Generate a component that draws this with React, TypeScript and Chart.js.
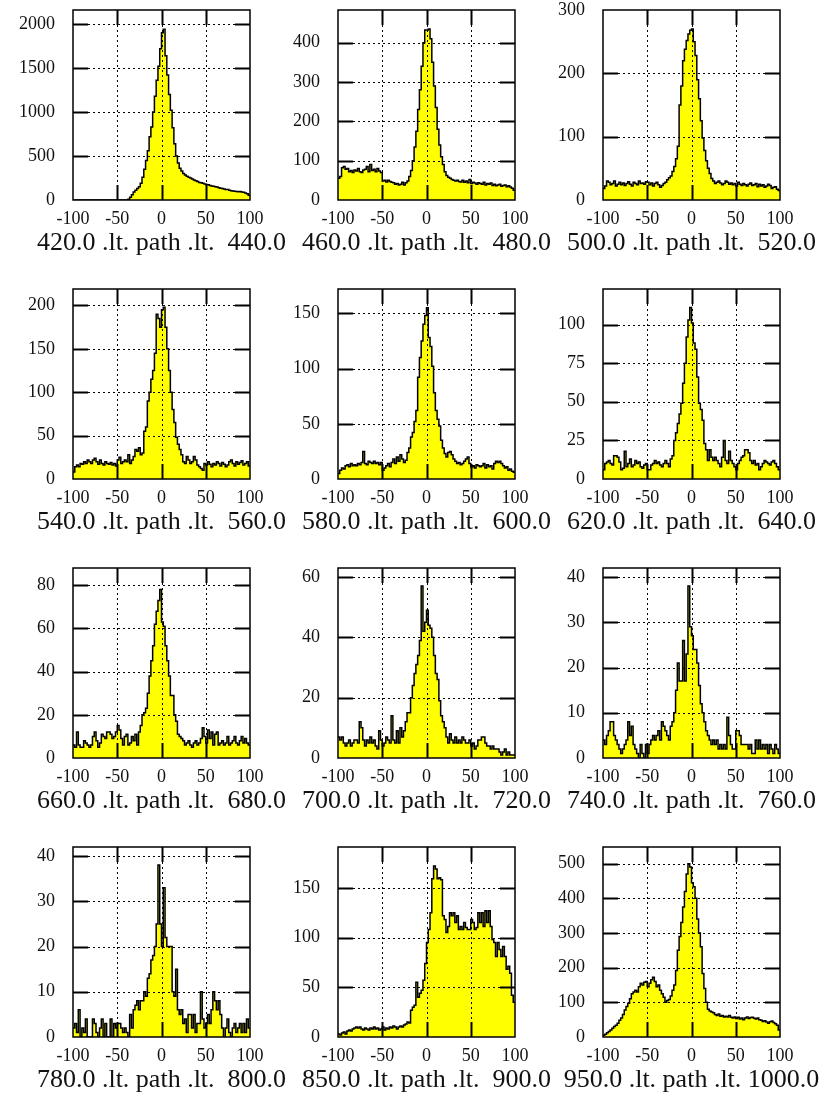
import React, { useEffect, useRef } from "react";
import { Chart, registerables } from "chart.js";

Chart.register(...registerables);

// ---------- data ----------
const X_MIN = -100;
const X_MAX = 100;
const X_STEP = 50;

const titles = [
  "420.0 .lt. path .lt.  440.0",
  "460.0 .lt. path .lt.  480.0",
  "500.0 .lt. path .lt.  520.0",
  "540.0 .lt. path .lt.  560.0",
  "580.0 .lt. path .lt.  600.0",
  "620.0 .lt. path .lt.  640.0",
  "660.0 .lt. path .lt.  680.0",
  "700.0 .lt. path .lt.  720.0",
  "740.0 .lt. path .lt.  760.0",
  "780.0 .lt. path .lt.  800.0",
  "850.0 .lt. path .lt.  900.0",
  "950.0 .lt. path .lt. 1000.0",
];

const yMax = [2160, 483, 300, 219, 172, 123, 88, 63, 42, 42, 191, 548];
const yStep = [500, 100, 100, 50, 50, 25, 20, 20, 10, 10, 50, 100];

const h420 = [
  0, 0, 0, 0, 0, 0, 0, 0, 0, 0,
  0, 0, 0, 0, 0, 0, 0, 0, 0, 0,
  0, 0, 0, 0, 0, 0, 0, 0, 0, 0,
  0, 8, 30, 60, 90, 110, 130, 150, 190, 260,
  350, 450, 560, 720, 830, 1000, 1180, 1360, 1520, 1720,
  1900, 1940, 1640, 1420, 1200, 1020, 820, 640, 500, 420,
  360, 330, 300, 285, 270, 260, 250, 240, 228, 220,
  210, 200, 195, 190, 182, 175, 172, 165, 160, 155,
  150, 148, 140, 135, 132, 125, 120, 118, 110, 105,
  103, 100, 98, 95, 98, 92, 88, 80, 72, 55,
];
const h460 = [
  55, 60, 82, 85, 78, 80, 72, 75, 70, 76,
  74, 80, 72, 70, 76, 78, 85, 72, 90, 75,
  78, 72, 80, 74, 70, 48, 50, 46, 50, 47,
  45, 44, 40, 42, 38, 40, 45, 38, 44, 48,
  60, 75, 100, 135, 175, 230, 280, 340, 400, 432,
  432, 435, 410, 350, 290, 235, 180, 140, 110, 90,
  72, 62, 58, 55, 52, 50, 48, 50, 47, 46,
  50, 45, 48, 44, 52, 42, 45, 43, 40, 44,
  42, 40, 45, 38, 42, 40, 43, 37, 40, 36,
  38, 40, 35, 37, 38, 34, 36, 33, 30, 25,
];
const h500 = [
  18, 22, 30, 28, 24, 26, 30, 22, 25, 28,
  24, 27, 23, 26, 29, 25, 22, 28, 26, 24,
  30, 26, 27, 25, 29, 28, 24, 27, 22, 26,
  28, 24, 20, 23, 26, 28, 32, 35, 38, 45,
  53, 65, 85, 150, 180, 220, 238, 252, 262, 268,
  270, 250, 228, 190, 160, 125, 98, 78, 62, 50,
  42, 34, 30, 26, 28, 30, 27, 24, 26, 30,
  28, 25, 27, 24, 26, 22, 28, 25, 23, 26,
  24, 22, 25, 27, 23, 24, 26, 21, 25, 22,
  24, 20, 22, 25, 23, 18, 20, 21, 17, 15,
];
const h540 = [
  8, 14, 16, 14, 18, 17, 20, 18, 22, 20,
  18, 22, 24, 20, 17, 22, 18, 16, 20, 18,
  17, 19, 16, 18, 15, 22, 25, 18, 20, 22,
  20, 28, 18, 22, 26, 34, 32, 36, 28, 30,
  55, 60, 90, 100, 115, 125, 145, 190, 185, 175,
  195, 198, 175, 150, 125, 100, 80, 65, 48, 40,
  34, 28, 20, 18, 26, 22, 18, 20, 26, 22,
  16, 14, 12, 10, 18, 16, 20, 17, 14, 18,
  16, 20, 18, 15, 19, 17, 14, 16, 20, 22,
  18, 15, 20, 17, 19, 21, 16, 18, 20, 15,
];
const h580 = [
  5, 8, 10, 9, 12, 13, 11, 14, 12, 13,
  12, 14, 13, 15, 25, 14, 13, 16, 15, 14,
  16, 14, 15, 13, 15, 8, 10, 12, 14, 11,
  15, 18, 14, 20, 16, 22, 18, 15, 17, 24,
  28, 38, 42, 52, 62, 92, 110, 125, 140, 148,
  155, 128, 120, 102, 78, 62, 54, 48, 35, 28,
  23, 20, 24, 25, 22, 18, 16, 14, 15, 13,
  14, 16, 18, 20, 14, 11, 12, 10, 13, 12,
  11, 12, 14, 10, 13, 11, 12, 9, 14, 16,
  15, 16, 14, 12, 10, 11, 8, 9, 7, 6,
];
const h620 = [
  6, 10, 11, 12, 10, 9, 15, 15, 14, 11,
  6, 7, 18, 8, 10, 13, 8, 9, 12, 10,
  11, 8, 7, 9, 10, 6, 6, 9, 10, 12,
  10, 11, 9, 8, 10, 12, 10, 8, 13, 15,
  25, 30, 36, 42, 49, 62, 75, 92, 103, 111,
  101, 88, 84, 66, 49, 45, 38, 23, 19, 12,
  19, 14, 12, 14, 12, 10, 8, 14, 25, 12,
  10, 18, 12, 10, 8, 6, 10, 12, 14, 15,
  19, 19, 17, 12, 10, 12, 9, 10, 6, 8,
  10, 12, 11, 10, 9, 11, 12, 10, 8, 6,
];
const h660 = [
  6, 5, 12, 6, 5, 5, 8, 7, 6, 5,
  6, 10, 12, 8, 5, 7, 11, 10, 9, 12,
  12, 11, 9, 10, 12, 15, 13, 9, 6, 10,
  11, 6, 7, 10, 8, 11, 6, 12, 15, 20,
  21, 23, 30, 38, 45, 52, 62, 68, 73, 78,
  63, 61, 52, 45, 38, 29, 29, 20, 17, 11,
  10, 9, 8, 6, 7, 8, 6, 5, 7, 8,
  6, 7, 9, 14, 10, 7, 13, 9, 12, 6,
  11, 12, 6, 7, 8, 6, 7, 10, 6, 7,
  8, 10, 7, 6, 8, 10, 7, 9, 7, 6,
];
const h700 = [
  7, 6, 7, 5, 4, 5, 6, 4, 5, 6,
  6, 5, 12, 10, 6, 4, 6, 5, 7, 5,
  6, 4, 3, 9, 6, 4, 5, 7, 6, 5,
  14, 6, 5, 9, 5, 10, 7, 9, 12, 15,
  15, 20, 24, 28, 31, 34, 39, 57, 42, 45,
  49, 44, 43, 40, 34, 28, 26, 19, 14, 12,
  10, 7, 5, 8, 6, 5, 7, 5, 6, 5,
  7, 6, 5, 5, 6, 4, 5, 3, 4, 6,
  6, 7, 7, 5, 4, 4, 3, 4, 3, 3,
  3, 2, 1, 2, 3, 1, 2, 1, 1, 1,
];
const h740 = [
  4, 3, 5, 6, 8, 8, 5, 4, 3, 2,
  1, 2, 3, 4, 8, 5, 7, 3, 2, 1,
  0, 3, 1, 0, 3, 1, 3, 4, 5, 4,
  5, 6, 4, 8, 7, 6, 5, 4, 7, 8,
  10, 15, 21, 17, 17, 26, 17, 23, 38, 29,
  27, 24, 24, 21, 16, 12, 10, 8, 6, 5,
  4, 3, 4, 3, 4, 2, 3, 2, 3, 2,
  9, 5, 3, 2, 2, 6, 6, 5, 3, 3,
  3, 3, 2, 3, 1, 1, 4, 2, 4, 2,
  3, 2, 3, 1, 3, 2, 1, 3, 2, 1,
];
const h780 = [
  2, 3, 1, 6, 0, 2, 1, 4, 0, 0,
  0, 4, 3, 1, 0, 2, 4, 0, 3, 0,
  0, 4, 0, 3, 2, 3, 3, 2, 1, 2,
  1, 0, 5, 2, 6, 7, 8, 6, 8, 8,
  10, 9, 13, 14, 17, 18, 20, 25, 38, 25,
  20, 33, 22, 20, 20, 20, 10, 9, 15, 6,
  5, 6, 3, 4, 1, 5, 5, 2, 5, 1,
  3, 3, 10, 4, 2, 3, 5, 3, 6, 10,
  8, 6, 8, 5, 2, 0, 2, 4, 1, 0,
  2, 3, 1, 2, 3, 1, 3, 1, 4, 2,
];
const h850 = [
  3, 2, 4, 5, 3, 6, 7, 6, 8, 9,
  10, 9, 10, 8, 7, 9, 8, 7, 9, 8,
  10, 8, 9, 7, 8, 10, 7, 9, 8, 10,
  9, 11, 10, 8, 10, 11, 10, 12, 13, 15,
  14, 27, 30, 32, 55, 40, 44, 47, 57, 74,
  95, 108, 125, 159, 172, 169, 159, 160, 158, 122,
  118, 105, 111, 125, 122, 125, 115, 122, 108, 111,
  108, 115, 110, 108, 108, 118, 115, 108, 110, 125,
  115, 125, 111, 127, 115, 127, 111, 98, 95, 81,
  95, 88, 81, 91, 81, 68, 71, 64, 42, 35,
];
const h950 = [
  5, 8, 12, 16, 20, 25, 30, 34, 40, 48,
  55, 65, 78, 88, 97, 110, 125, 130, 135, 130,
  145, 155, 150, 158, 160, 145, 155, 165, 172, 160,
  145, 150, 135, 125, 115, 100, 105, 108, 118, 135,
  150, 192, 250, 290, 330, 375, 420, 470, 500, 490,
  445, 433, 400, 340, 300, 260, 183, 140, 100, 80,
  75, 72, 70, 65, 62, 66, 60, 62, 58, 60,
  58, 62, 57, 55, 58, 53, 57, 52, 55, 50,
  55, 58, 53, 56, 57, 54, 52, 55, 50, 48,
  45, 47, 43, 40, 44, 46, 42, 38, 34, 20,
];

const series = [h420, h460, h500, h540, h580, h620, h660, h700, h740, h780, h850, h950];

// ---------- layout / style ----------
const PLOT_LEFTS = [73, 338, 603];
const PLOT_TOPS = [10, 289, 568, 847];
const PLOT_W = 177;
const AXIS_W = 73;
const TOP_PAD = 10;
const PLOT_H = 190;
const X_AXIS_H = 80;
const CANVAS_W = 300;
const CANVAS_H = TOP_PAD + PLOT_H + X_AXIS_H;
const SERIF = '"Liberation Serif", "Times New Roman", Times, serif';
const TEXT = "#111";
const FILL = "#ffff00";

function framePlugin(title: string) {
  return {
    id: "frame",
    afterDatasetsDraw(chart: any) {
      const { ctx, chartArea: a, scales } = chart;
      const line = (x1: number, y1: number, x2: number, y2: number) => {
        ctx.beginPath();
        ctx.moveTo(x1, y1);
        ctx.lineTo(x2, y2);
        ctx.stroke();
      };
      ctx.save();
      ctx.strokeStyle = "#000";
      const ys = scales.y.ticks
        .map((t: any) => scales.y.getPixelForValue(t.value))
        .filter((p: number) => p > a.top + 1 && p < a.bottom - 1);
      const xs = scales.x.ticks
        .map((t: any) => scales.x.getPixelForValue(t.value))
        .filter((p: number) => p > a.left + 1 && p < a.right - 1);
      // dotted grid
      ctx.lineWidth = 1;
      ctx.setLineDash([2, 3]);
      for (const p of ys) {
        const py = Math.round(p) + 0.5;
        line(a.left, py, a.right, py);
      }
      for (const p of xs) {
        const px = Math.round(p) + 0.5;
        line(px, a.top, px, a.bottom);
      }
      ctx.setLineDash([]);
      // inner tick marks
      const TL = 15;
      ctx.lineWidth = 2;
      for (const p of ys) {
        const py = Math.round(p) + 0.5;
        line(a.left, py, a.left + TL, py);
        line(a.right - TL, py, a.right, py);
      }
      for (const p of xs) {
        const px = Math.round(p) + 0.5;
        line(px, a.bottom, px, a.bottom - TL);
        line(px, a.top, px, a.top + TL);
      }
      // frame
      ctx.lineWidth = 1.5;
      ctx.strokeRect(a.left, a.top, a.right - a.left, a.bottom - a.top);
      // caption
      ctx.fillStyle = TEXT;
      ctx.font = `26px ${SERIF}`;
      ctx.textAlign = "center";
      ctx.textBaseline = "middle";
      ctx.fillText(title, (a.left + a.right) / 2, a.bottom + 43);
      ctx.restore();
    },
  };
}

function Panel({ idx }: { idx: number }) {
  const ref = useRef<HTMLCanvasElement>(null);
  useEffect(() => {
    if (!ref.current) return;
    const values = series[idx];
    const w = (X_MAX - X_MIN) / values.length;
    const pts = values.map((v, i) => ({ x: X_MIN + i * w, y: v }));
    pts.push({ x: X_MAX, y: values[values.length - 1] });
    const chart = new Chart(ref.current, {
      type: "line",
      data: {
        datasets: [
          {
            data: pts,
            stepped: "before",
            borderColor: "#000",
            borderWidth: 1.5,
            backgroundColor: FILL,
            fill: "origin",
            pointRadius: 0,
            tension: 0,
          },
        ],
      },
      options: {
        animation: false,
        responsive: false,
        devicePixelRatio: 1,
        layout: {
          padding: { top: TOP_PAD, right: CANVAS_W - AXIS_W - PLOT_W, bottom: 0, left: 0 },
        },
        plugins: {
          legend: { display: false },
          tooltip: { enabled: false },
          title: { display: false },
        },
        scales: {
          x: {
            type: "linear",
            min: X_MIN,
            max: X_MAX,
            ticks: {
              stepSize: X_STEP,
              autoSkip: false,
              maxRotation: 0,
              padding: 8,
              color: TEXT,
              font: { family: SERIF, size: 18 },
              callback: (v: any) => String(v),
            },
            grid: { display: false, drawTicks: false },
            border: { display: false },
            afterFit: (s: any) => {
              s.height = X_AXIS_H;
              s.paddingLeft = 0;
              s.paddingRight = 0;
            },
          },
          y: {
            min: 0,
            max: yMax[idx],
            ticks: {
              stepSize: yStep[idx],
              autoSkip: false,
              padding: 18,
              color: TEXT,
              font: { family: SERIF, size: 18 },
              callback: (v: any) => String(v),
            },
            afterBuildTicks: (s: any) => {
              const t: { value: number }[] = [];
              for (let v = 0; v <= yMax[idx] + 1e-9; v += yStep[idx]) t.push({ value: v });
              s.ticks = t;
            },
            grid: { display: false, drawTicks: false },
            border: { display: false },
            afterFit: (s: any) => {
              s.width = AXIS_W;
              s.paddingTop = 0;
              s.paddingBottom = 0;
            },
          },
        },
      } as any,
      plugins: [framePlugin(titles[idx])],
    });
    return () => chart.destroy();
  }, [idx]);
  const col = idx % 3;
  const row = Math.floor(idx / 3);
  return (
    <canvas
      ref={ref}
      width={CANVAS_W}
      height={CANVAS_H}
      style={{
        position: "absolute",
        left: PLOT_LEFTS[col] - AXIS_W,
        top: PLOT_TOPS[row] - TOP_PAD,
        width: CANVAS_W,
        height: CANVAS_H,
      }}
    />
  );
}

export default function App() {
  return (
    <div
      style={{
        position: "absolute",
        left: 0,
        top: 0,
        width: 834,
        height: 1096,
        background: "#fff",
        overflow: "hidden",
      }}
    >
      {series.map((_, i) => (
        <Panel key={i} idx={i} />
      ))}
    </div>
  );
}
